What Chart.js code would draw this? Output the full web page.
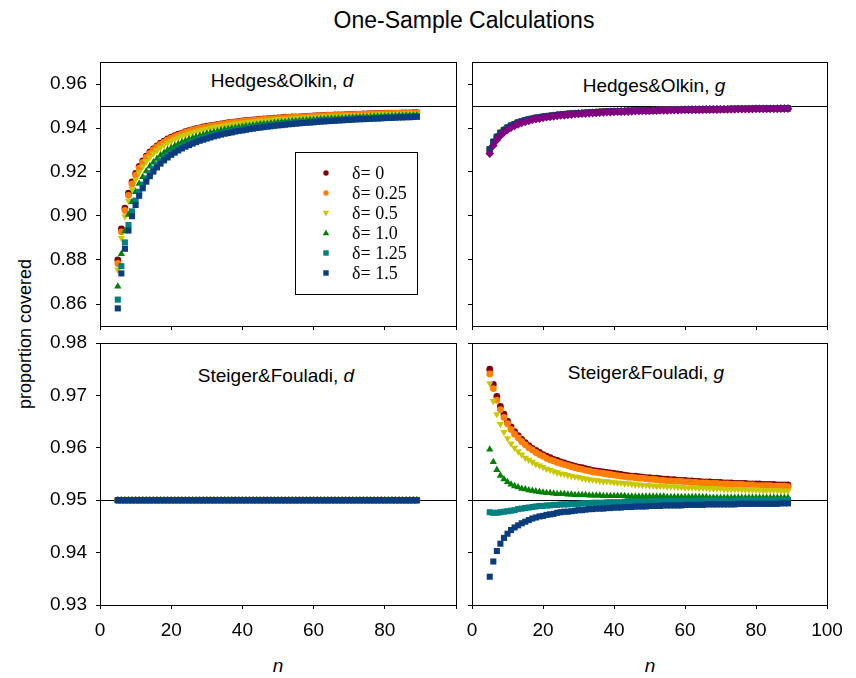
<!DOCTYPE html>
<html>
<head>
<meta charset="utf-8">
<script src="https://cdn.jsdelivr.net/npm/chart.js@4.4.1/dist/chart.umd.min.js"></script>
<style>
  body { margin: 0; background: #fff; width: 856px; height: 678px; position: relative; overflow: hidden;
         font-family: "Liberation Sans", Arial, sans-serif; color: #000; }
  canvas { position: absolute; }
  .txt { position: absolute; white-space: nowrap; transform: translate(-50%, -50%); line-height: 1; }
</style>
</head>
<body>
<div class="txt" style="left:464px;top:20px;font-size:23px">One-Sample Calculations</div>
<div class="txt" style="left:282px;top:80px;font-size:19px">Hedges&amp;Olkin, <i>d</i></div>
<div class="txt" style="left:654px;top:85px;font-size:19px">Hedges&amp;Olkin, <i>g</i></div>
<div class="txt" style="left:276px;top:375px;font-size:19px">Steiger&amp;Fouladi, <i>d</i></div>
<div class="txt" style="left:646px;top:372px;font-size:19px">Steiger&amp;Fouladi, <i>g</i></div>
<div class="txt" style="left:25px;top:334px;font-size:18px;transform:translate(-50%,-50%) rotate(-90deg)">proportion covered</div>
<div class="txt" style="left:278px;top:665px;font-size:19px"><i>n</i></div>
<div class="txt" style="left:650px;top:665px;font-size:19px"><i>n</i></div>

<script>
// sample sizes
const nValues = [5,6,7,8,9,10,11,12,13,14,15,16,17,18,19,20,21,22,23,24,25,26,27,28,29,30,31,32,33,34,35,36,37,38,39,40,
  41,42,43,44,45,46,47,48,49,50,51,52,53,54,55,56,57,58,59,60,61,62,63,64,65,66,67,68,69,70,71,72,73,74,75,76,77,78,79,80,
  81,82,83,84,85,86,87,88,89];

const deltaLabels = ['δ= 0', 'δ= 0.25', 'δ= 0.5', 'δ= 1.0', 'δ= 1.25', 'δ= 1.5'];

const xTicks = [0, 20, 40, 60, 80, 100];
const yTicksTop = [0.86, 0.88, 0.90, 0.92, 0.94, 0.96];
const yTicksBottom = [0.93, 0.94, 0.95, 0.96, 0.97, 0.98];
const yRangeTop = [0.85, 0.97];
const yRangeBottom = [0.93, 0.98];
const nominalLevel = 0.95;

// Hedges&Olkin, d
const hoD0 = [.88,.8941,.9036,.9104,.9155,.9194,.9225,.9251,.9272,.9291,
  .9305,.9319,.9331,.934,.935,.9358,.9365,.9372,.9377,.9383,
  .9388,.9393,.9397,.9401,.9405,.9408,.9411,.9413,.9416,.9419,
  .9421,.9424,.9426,.9428,.943,.9432,.9434,.9435,.9437,.9438,
  .944,.9441,.9443,.9444,.9445,.9446,.9447,.9449,.9449,.945,
  .9451,.9451,.9452,.9453,.9454,.9455,.9456,.9456,.9457,.9458,
  .9458,.9459,.946,.946,.9461,.9462,.9462,.9463,.9463,.9464,
  .9464,.9465,.9465,.9466,.9466,.9467,.9467,.9467,.9468,.9468,
  .9469,.9469,.9469,.947,.947];
const hoD025 = [.8784,.8928,.9025,.9094,.9146,.9186,.9218,.9244,.9266,.9285,
  .93,.9314,.9326,.9336,.9346,.9354,.9361,.9368,.9374,.938,
  .9385,.939,.9394,.9398,.9402,.9405,.9408,.9411,.9414,.9417,
  .9419,.9422,.9424,.9426,.9428,.943,.9432,.9433,.9435,.9436,
  .9438,.9439,.9441,.9442,.9443,.9444,.9445,.9447,.9448,.9449,
  .9449,.945,.9451,.9452,.9453,.9454,.9455,.9455,.9456,.9457,
  .9457,.9458,.9459,.9459,.946,.9461,.9461,.9462,.9462,.9463,
  .9463,.9464,.9464,.9465,.9465,.9466,.9466,.9466,.9467,.9467,
  .9468,.9468,.9468,.9469,.9469];
const hoD05 = [.8756,.89,.8998,.9069,.9122,.9164,.9198,.9225,.9248,.9267,
  .9284,.9298,.9311,.9322,.9332,.9341,.9349,.9356,.9363,.9369,
  .9374,.9379,.9384,.9388,.9392,.9396,.94,.9403,.9406,.9409,
  .9411,.9414,.9416,.9419,.9421,.9423,.9425,.9427,.9428,.943,
  .9432,.9433,.9435,.9436,.9437,.9439,.944,.9441,.9442,.9443,
  .9444,.9445,.9446,.9447,.9448,.9449,.945,.9451,.9452,.9452,
  .9453,.9454,.9454,.9455,.9456,.9456,.9457,.9458,.9458,.9459,
  .9459,.946,.946,.9461,.9461,.9462,.9462,.9463,.9463,.9464,
  .9464,.9465,.9465,.9465,.9466];
const hoD10 = [.868,.8828,.8931,.9006,.9064,.911,.9147,.9178,.9204,.9226,
  .9244,.9261,.9276,.9288,.93,.931,.9319,.9328,.9335,.9342,
  .9349,.9355,.936,.9365,.937,.9375,.9379,.9382,.9386,.939,
  .9393,.9396,.9399,.9401,.9404,.9406,.9409,.9411,.9413,.9415,
  .9417,.9419,.942,.9422,.9424,.9425,.9427,.9428,.943,.9431,
  .9432,.9433,.9435,.9436,.9437,.9438,.9439,.944,.9441,.9442,
  .9443,.9443,.9444,.9445,.9446,.9447,.9448,.9448,.9449,.945,
  .945,.9451,.9452,.9452,.9453,.9453,.9454,.9455,.9455,.9456,
  .9456,.9457,.9457,.9458,.9458];
const hoD125 = [.862,.8772,.888,.8959,.9021,.907,.911,.9143,.9171,.9195,
  .9215,.9234,.925,.9264,.9277,.9288,.9298,.9307,.9316,.9323,
  .933,.9337,.9343,.9349,.9354,.9359,.9364,.9368,.9372,.9376,
  .938,.9383,.9385,.9389,.9392,.9394,.9397,.94,.9402,.9405,
  .9406,.9408,.941,.9412,.9414,.9416,.9417,.9419,.9421,.9422,
  .9424,.9425,.9427,.9427,.9428,.9429,.9431,.9432,.9433,.9434,
  .9435,.9436,.9437,.9438,.9439,.944,.9441,.9442,.9443,.9443,
  .9444,.9445,.9446,.9446,.9447,.9448,.9448,.9448,.9449,.945,
  .945,.9451,.9451,.9452,.9453];
const hoD15 = [.858,.8739,.8851,.8934,.8999,.905,.9092,.9126,.9156,.9181,
  .9202,.9221,.9238,.9253,.9266,.9278,.9288,.9298,.9307,.9315,
  .9322,.9329,.9336,.9342,.9347,.9352,.9357,.9362,.9366,.937,
  .9374,.9377,.938,.9384,.9387,.9389,.9392,.9395,.9397,.94,
  .9402,.9404,.9406,.9408,.941,.9412,.9413,.9415,.9417,.9418,
  .942,.9421,.9423,.9424,.9425,.9426,.9428,.9429,.943,.9431,
  .9432,.9433,.9434,.9435,.9436,.9437,.9438,.9439,.944,.944,
  .9441,.9442,.9443,.9443,.9444,.9445,.9446,.9446,.9447,.9448,
  .9448,.9449,.9449,.945,.9451];

// Hedges&Olkin, g (the six delta series lie on top of each other)
const hoGDelta = [.9304,.9337,.936,.9378,.9391,.9402,.9411,.9418,.9425,.943,
  .9435,.9439,.9442,.9446,.9448,.9451,.9453,.9455,.9457,.9459,
  .9461,.9462,.9464,.9465,.9466,.9467,.9468,.9469,.947,.9471,
  .9472,.9473,.9474,.9474,.9475,.9476,.9476,.9477,.9477,.9478,
  .9478,.9479,.9479,.948,.948,.948,.9481,.9481,.9482,.9482,
  .9482,.9483,.9483,.9483,.9483,.9484,.9484,.9484,.9484,.9485,
  .9485,.9485,.9485,.9486,.9486,.9486,.9486,.9486,.9487,.9487,
  .9487,.9487,.9487,.9487,.9488,.9488,.9488,.9488,.9488,.9488,
  .9488,.9489,.9489,.9489,.9489];
const hoGPurple = [.9284,.932,.9346,.9365,.938,.9392,.9402,.941,.9417,.9423,
  .9428,.9433,.9437,.944,.9443,.9446,.9449,.9451,.9453,.9455,
  .9457,.9458,.946,.9461,.9463,.9464,.9465,.9466,.9467,.9468,
  .9469,.947,.9471,.9472,.9472,.9473,.9474,.9474,.9475,.9475,
  .9476,.9477,.9477,.9478,.9478,.9478,.9479,.9479,.948,.948,
  .948,.9481,.9481,.9481,.9482,.9482,.9482,.9483,.9483,.9483,
  .9483,.9484,.9484,.9484,.9484,.9485,.9485,.9485,.9485,.9485,
  .9486,.9486,.9486,.9486,.9486,.9487,.9487,.9487,.9487,.9487,
  .9487,.9487,.9488,.9488,.9488];

// Steiger&Fouladi, d (all delta series sit on the nominal level)
const sfDDelta = [.95,.95,.95,.95,.95,.95,.95,.95,.95,.95,
  .95,.95,.95,.95,.95,.95,.95,.95,.95,.95,
  .95,.95,.95,.95,.95,.95,.95,.95,.95,.95,
  .95,.95,.95,.95,.95,.95,.95,.95,.95,.95,
  .95,.95,.95,.95,.95,.95,.95,.95,.95,.95,
  .95,.95,.95,.95,.95,.95,.95,.95,.95,.95,
  .95,.95,.95,.95,.95,.95,.95,.95,.95,.95,
  .95,.95,.95,.95,.95,.95,.95,.95,.95,.95,
  .95,.95,.95,.95,.95];

// Steiger&Fouladi, g
const sfG0 = [.975,.9721,.9698,.9679,.9664,.9651,.964,.9631,.9623,.9616,
  .961,.9604,.9599,.9595,.9591,.9587,.9584,.9581,.9578,.9576,
  .9573,.9571,.9569,.9567,.9565,.9563,.9562,.956,.9559,.9557,
  .9556,.9555,.9554,.9553,.9552,.9551,.955,.9549,.9548,.9547,
  .9546,.9546,.9545,.9544,.9543,.9543,.9542,.9542,.9541,.954,
  .954,.9539,.9539,.9538,.9538,.9538,.9537,.9537,.9536,.9536,
  .9535,.9535,.9535,.9534,.9534,.9534,.9533,.9533,.9533,.9532,
  .9532,.9532,.9532,.9531,.9531,.9531,.9531,.953,.953,.953,
  .953,.9529,.9529,.9529,.9529];
const sfG025 = [.9741,.9713,.9691,.9673,.9658,.9646,.9635,.9626,.9619,.9612,
  .9606,.96,.9596,.9591,.9587,.9584,.958,.9577,.9575,.9572,
  .957,.9568,.9566,.9564,.9562,.956,.9559,.9557,.9556,.9554,
  .9553,.9552,.9551,.955,.9549,.9548,.9547,.9546,.9545,.9544,
  .9544,.9543,.9542,.9542,.9541,.954,.954,.9539,.9538,.9538,
  .9537,.9537,.9536,.9536,.9536,.9535,.9535,.9534,.9534,.9533,
  .9533,.9533,.9532,.9532,.9532,.9531,.9531,.9531,.953,.953,
  .953,.953,.9529,.9529,.9529,.9528,.9528,.9528,.9528,.9528,
  .9527,.9527,.9527,.9527,.9526];
const sfG05 = [.9723,.9689,.9664,.9645,.963,.9618,.9608,.96,.9593,.9587,
  .9581,.9577,.9573,.9569,.9566,.9563,.956,.9558,.9555,.9553,
  .9551,.955,.9548,.9546,.9545,.9544,.9542,.9541,.954,.9539,
  .9538,.9537,.9536,.9536,.9535,.9534,.9533,.9533,.9532,.9532,
  .9531,.953,.953,.9529,.9529,.9528,.9528,.9527,.9527,.9527,
  .9526,.9526,.9526,.9525,.9525,.9524,.9524,.9524,.9524,.9523,
  .9523,.9523,.9522,.9522,.9522,.9522,.9521,.9521,.9521,.9521,
  .9521,.952,.952,.952,.952,.952,.9519,.9519,.9519,.9519,
  .9519,.9519,.9518,.9518,.9518];
const sfG10 = [.9597,.9573,.9558,.9547,.954,.9535,.953,.9527,.9525,.9522,
  .9521,.9519,.9518,.9517,.9516,.9515,.9514,.9514,.9513,.9512,
  .9512,.9512,.9511,.9511,.951,.951,.951,.951,.9509,.9509,
  .9509,.9509,.9508,.9508,.9508,.9508,.9508,.9508,.9508,.9507,
  .9507,.9507,.9507,.9507,.9507,.9507,.9507,.9507,.9507,.9507,
  .9506,.9506,.9506,.9506,.9506,.9506,.9506,.9506,.9506,.9506,
  .9506,.9506,.9505,.9505,.9505,.9505,.9505,.9505,.9505,.9505,
  .9505,.9505,.9505,.9505,.9505,.9505,.9505,.9505,.9505,.9505,
  .9505,.9505,.9505,.9505,.9505];
const sfG125 = [.9477,.9476,.9476,.9477,.9478,.9479,.948,.9481,.9483,.9484,
  .9485,.9486,.9487,.9488,.9489,.9489,.949,.949,.9491,.9491,
  .9492,.9492,.9492,.9493,.9493,.9493,.9494,.9494,.9494,.9495,
  .9495,.9495,.9495,.9496,.9496,.9496,.9496,.9496,.9497,.9497,
  .9497,.9497,.9497,.9497,.9497,.9498,.9498,.9498,.9498,.9498,
  .9498,.9498,.9498,.9498,.9498,.9498,.9498,.9498,.9499,.9499,
  .9499,.9499,.9499,.9499,.9499,.9499,.9499,.9499,.9499,.9499,
  .9499,.95,.95,.95,.95,.95,.95,.95,.95,.95,
  .95,.95,.95,.95,.95];
const sfG15 = [.9354,.9383,.9403,.9417,.9428,.9436,.9443,.9448,.9452,.9456,
  .9459,.9462,.9465,.9467,.9469,.947,.9472,.9473,.9474,.9476,
  .9477,.9478,.9478,.9479,.948,.9481,.9481,.9482,.9483,.9483,
  .9484,.9484,.9484,.9485,.9485,.9486,.9486,.9486,.9487,.9487,
  .9487,.9488,.9488,.9488,.9488,.9489,.9489,.9489,.9489,.949,
  .949,.949,.949,.949,.949,.9491,.9491,.9491,.9491,.9491,
  .9491,.9492,.9492,.9492,.9492,.9492,.9492,.9492,.9492,.9492,
  .9493,.9493,.9493,.9493,.9493,.9493,.9493,.9493,.9493,.9493,
  .9493,.9493,.9494,.9494,.9494];

// marker look for each delta, same order as deltaLabels
const deltaStyles = [
  { color: '#800000', shape: 'circle', rot: 0, r: 3.4 },
  { color: '#FF8000', shape: 'circle', rot: 0, r: 3.4 },
  { color: '#C8C800', shape: 'triangle', rot: 180, r: 4.2 },
  { color: '#008000', shape: 'triangle', rot: 0, r: 4.2 },
  { color: '#008080', shape: 'rect', rot: 0, r: 4.3 },
  { color: '#0B3D7E', shape: 'rect', rot: 0, r: 4.3 }
];
const purpleStyle = { color: '#800080', shape: 'rectRot', rot: 0, r: 4.4 };

const FONT = '"Liberation Sans", Arial, sans-serif';
const PT = 26, PR = 32, XH = 60;

function series(values, st, label, order) {
  return {
    label,
    data: nValues.map((n, i) => ({ x: n, y: values[i] })),
    pointStyle: st.shape,
    pointRotation: st.rot,
    pointRadius: st.r,
    pointBackgroundColor: st.color,
    pointBorderWidth: 0,
    borderColor: st.color,
    showLine: false,
    order
  };
}

// panel frame plus the horizontal line at the nominal coverage level
const frame = {
  id: 'frame',
  beforeDatasetsDraw(chart) {
    const a = chart.chartArea, ctx = chart.ctx;
    const y = Math.round(chart.scales.y.getPixelForValue(nominalLevel)) + 0.5;
    ctx.save();
    ctx.strokeStyle = '#000';
    ctx.lineWidth = 1;
    ctx.beginPath();
    ctx.moveTo(a.left, y);
    ctx.lineTo(a.right, y);
    ctx.stroke();
    ctx.restore();
  },
  afterDatasetsDraw(chart) {
    const a = chart.chartArea, ctx = chart.ctx;
    ctx.save();
    ctx.strokeStyle = '#000';
    ctx.lineWidth = 1;
    ctx.strokeRect(Math.round(a.left) + 0.5, Math.round(a.top) + 0.5,
      Math.round(a.right - a.left), Math.round(a.bottom - a.top));
    ctx.restore();
  }
};

function drawMarker(ctx, st, x, y, r) {
  ctx.fillStyle = st.color;
  ctx.beginPath();
  if (st.shape === 'circle') {
    ctx.arc(x, y, r, 0, Math.PI * 2);
  } else if (st.shape === 'rect') {
    ctx.rect(x - r * 0.75, y - r * 0.75, r * 1.5, r * 1.5);
  } else {
    const s = st.rot ? -1 : 1;
    ctx.moveTo(x, y - s * r);
    ctx.lineTo(x + r * 0.9, y + s * r * 0.6);
    ctx.lineTo(x - r * 0.9, y + s * r * 0.6);
    ctx.closePath();
  }
  ctx.fill();
}

// legend box inside the top-left panel (page coordinates)
const legendBox = { x: 295, y: 152, w: 122, h: 142, symX: 326, textX: 352, row0: 173, rowStep: 20 };

function legendPlugin(offX, offY) {
  return {
    id: 'deltaLegend',
    afterDraw(chart) {
      const ctx = chart.ctx, b = legendBox;
      ctx.save();
      ctx.fillStyle = '#fff';
      ctx.fillRect(b.x - offX, b.y - offY, b.w, b.h);
      ctx.strokeStyle = '#000';
      ctx.lineWidth = 1;
      ctx.strokeRect(b.x - offX + 0.5, b.y - offY + 0.5, b.w, b.h);
      ctx.font = '18px "Liberation Serif", "Times New Roman", serif';
      ctx.textBaseline = 'middle';
      deltaLabels.forEach((lab, i) => {
        const y = b.row0 + i * b.rowStep - offY;
        const st = deltaStyles[i];
        drawMarker(ctx, st, b.symX - offX, y, st.shape === 'circle' ? 2.7 : 3.6);
        ctx.fillStyle = '#000';
        ctx.fillText(lab, b.textX - offX, y + 1);
      });
      ctx.restore();
    }
  };
}

function panel(area, datasets, yTicks, yRange, showX, showY, extraPlugins) {
  const YW = showY ? 100 : 30;
  const left = area.l - YW, top = area.t - PT;
  const cv = document.createElement('canvas');
  cv.width = area.r - area.l + YW + PR;
  cv.height = area.b - area.t + PT + XH;
  cv.style.left = left + 'px';
  cv.style.top = top + 'px';
  document.body.appendChild(cv);
  const plugins = [frame].concat(extraPlugins ? extraPlugins(left, top) : []);
  return new Chart(cv, {
    type: 'scatter',
    data: { datasets },
    options: {
      responsive: false,
      animation: false,
      events: [],
      layout: { padding: { left: 0, top: PT, right: PR, bottom: 0 } },
      plugins: { legend: { display: false }, tooltip: { enabled: false } },
      scales: {
        x: {
          type: 'linear', min: xTicks[0], max: xTicks[xTicks.length - 1],
          afterBuildTicks: s => { s.ticks = xTicks.map(v => ({ value: v })); },
          afterFit: s => { s.height = XH; },
          border: { display: false },
          grid: { drawOnChartArea: false, drawTicks: true, tickLength: 4, color: '#000', tickColor: '#000' },
          ticks: {
            display: showX, autoSkip: false, maxRotation: 0, padding: 10, color: '#000',
            font: { family: FONT, size: 19 },
            callback: v => (showY && v === 100) ? '' : String(v)
          }
        },
        y: {
          type: 'linear', min: yRange[0], max: yRange[1],
          afterBuildTicks: s => { s.ticks = yTicks.map(v => ({ value: v })); },
          afterFit: s => { s.width = YW; },
          border: { display: false },
          grid: { drawOnChartArea: false, drawTicks: true, tickLength: 4, color: '#000', tickColor: '#000' },
          ticks: {
            display: showY, padding: 9, color: '#000',
            font: { family: FONT, size: 19 },
            callback: v => v.toFixed(2)
          }
        }
      }
    },
    plugins
  });
}

function deltaSets(arrays) {
  return arrays.map((arr, i) => series(arr, deltaStyles[i], deltaLabels[i], 10 - i));
}

const areaTL = { l: 100, t: 62, r: 456, b: 326 };
const areaTR = { l: 472, t: 62, r: 827, b: 326 };
const areaBL = { l: 100, t: 343, r: 456, b: 605 };
const areaBR = { l: 472, t: 343, r: 827, b: 605 };

panel(areaTL, deltaSets([hoD0, hoD025, hoD05, hoD10, hoD125, hoD15]), yTicksTop, yRangeTop, false, true,
  (l, t) => [legendPlugin(l, t)]);
panel(areaTR, deltaSets([hoGDelta, hoGDelta, hoGDelta, hoGDelta, hoGDelta, hoGDelta])
  .concat([series(hoGPurple, purpleStyle, 'g', 1)]), yTicksTop, yRangeTop, false, false);
panel(areaBL, deltaSets([sfDDelta, sfDDelta, sfDDelta, sfDDelta, sfDDelta, sfDDelta]), yTicksBottom, yRangeBottom, true, true);
panel(areaBR, deltaSets([sfG0, sfG025, sfG05, sfG10, sfG125, sfG15]), yTicksBottom, yRangeBottom, true, false);
</script>
</body>
</html>
